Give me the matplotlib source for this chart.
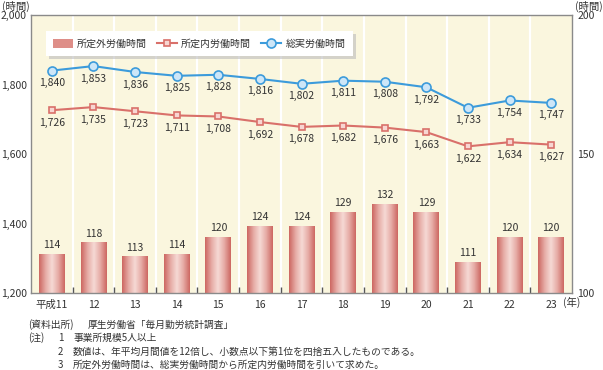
import matplotlib
matplotlib.use("Agg")
import matplotlib.pyplot as plt
import numpy as np
from matplotlib.colors import LinearSegmentedColormap
from matplotlib.patches import Rectangle
from matplotlib.lines import Line2D

plt.rcParams['font.family'] = ['Noto Sans CJK JP', 'DejaVu Sans']

years = ['平成11', '12', '13', '14', '15', '16', '17', '18', '19', '20', '21', '22', '23']
total_hours = [1840, 1853, 1836, 1825, 1828, 1816, 1802, 1811, 1808, 1792, 1733, 1754, 1747]
scheduled_hours = [1726, 1735, 1723, 1711, 1708, 1692, 1678, 1682, 1676, 1663, 1622, 1634, 1627]
overtime_hours = [114, 118, 113, 114, 120, 124, 124, 129, 132, 129, 111, 120, 120]
left_ticks = [1200, 1400, 1600, 1800, 2000]
right_ticks = [100, 150, 200]

fig = plt.figure(figsize=(6.03, 3.70), dpi=100)
ax = fig.add_axes([31/603, 1-293/370, 541/603, 278/370])
ax2 = ax.twinx()
ax.set_facecolor('#FAF6DE')
x = np.arange(len(years))

for b in np.arange(0.5, len(years)-0.5, 1):
    ax.axvline(b, color='white', lw=1.6, zorder=0.5)

cmap = LinearSegmentedColormap.from_list('bar', ['#CD6862', '#E6ABA5', '#F6DAD5', '#E6ABA5', '#CD6862'])
grad = np.linspace(0, 1, 64).reshape(1, -1)
w = 0.62
bars = ax.bar(x, np.array(overtime_hours) - 100, bottom=100, width=w, color='none', edgecolor='none', zorder=2)
for rect, v in zip(bars, overtime_hours):
    x0 = rect.get_x()
    ax.imshow(grad, cmap=cmap, aspect='auto', extent=(x0, x0 + w, 100, v), zorder=2)
    ax.annotate(f'{v}', (x0 + w/2, v), xytext=(0, 3), textcoords='offset points',
                ha='center', va='bottom', fontsize=7.5, color='#333333')
ax.set_xlim(-0.5, len(years)-0.5)
ax.set_ylim(100, 200)

ax.yaxis.tick_right()
ax.set_yticks(right_ticks)
ax.set_yticklabels([str(t) for t in right_ticks], fontsize=7.5, color='#333333')
ax.tick_params(axis='y', which='both', length=0, pad=4, left=False, labelleft=False, right=True, labelright=True)
ax.set_xticks(x)
ax.set_xticklabels(years, fontsize=7.5, color='#333333')
ax.tick_params(axis='x', length=0, pad=5)
ax.set_xticks(np.arange(0.5, len(years)-0.5, 1), minor=True)
ax.tick_params(axis='x', which='minor', direction='in', length=4, color='#555555', width=1)
for s in ax.spines.values():
    s.set_color('#8A8A8A')
    s.set_linewidth(1)

ax2.set_ylim(1200, 2000)
ax2.set_yticks(left_ticks)
ax2.set_yticklabels([f'{t:,}' for t in left_ticks], fontsize=7.5, color='#333333')
ax2.tick_params(axis='y', length=0, pad=3, left=True, labelleft=True, right=False, labelright=False)
ax2.patch.set_visible(False)
for s in ax2.spines.values():
    s.set_visible(False)

red = '#D9706A'
blue = '#3C9BDB'
ax2.plot(x, scheduled_hours, color=red, lw=1.5, marker='s', ms=5, mfc='#F7D6D2', mec=red, mew=1.2, zorder=3)
ax2.plot(x, total_hours, color=blue, lw=1.5, marker='o', ms=6.5, mfc='#CDE6F8', mec=blue, mew=1.2, zorder=3)
for xi, v in zip(x, scheduled_hours):
    ax2.annotate(f'{v:,}', (xi, v), xytext=(0, -9), textcoords='offset points',
                 ha='center', va='center', fontsize=7.5, color='#333333')
for xi, v in zip(x, total_hours):
    ax2.annotate(f'{v:,}', (xi, v), xytext=(0, -9), textcoords='offset points',
                 ha='center', va='center', fontsize=7.5, color='#333333')

handles = [
    Rectangle((0, 0), 1, 1, facecolor='#DE8E88', edgecolor='none'),
    Line2D([], [], color=red, lw=1.5, marker='s', ms=5, mfc='#F7D6D2', mec=red, mew=1.2),
    Line2D([], [], color=blue, lw=1.5, marker='o', ms=6.5, mfc='#CDE6F8', mec=blue, mew=1.2),
]
labels = ['所定外労働時間', '所定内労働時間', '総実労働時間']
leg = ax2.legend(handles, labels, loc='upper left', bbox_to_anchor=(0.018, 0.96), ncol=3,
                 fontsize=7.2, frameon=True, fancybox=False,
                 shadow={'color': '#BBBBBB', 'alpha': 0.6}, handlelength=2.0,
                 handleheight=1.1, columnspacing=1.0, handletextpad=0.4, borderpad=0.75)
leg.get_frame().set_edgecolor('white')
leg.get_frame().set_linewidth(0)
for t in leg.get_texts():
    t.set_color('#333333')

fig.text(2/603, 1-6/370, '(時間)', fontsize=7.5, color='#333333', va='center', ha='left')
fig.text(575/603, 1-6/370, '(時間)', fontsize=7.5, color='#333333', va='center', ha='left')
fig.text(563/603, 1-302/370, '(年)', fontsize=7.5, color='#333333', va='center', ha='left')

nc = '#333333'
fs = 7
fig.text(28/603, 1-325/370, '(資料出所)', fontsize=fs, color=nc, va='center')
fig.text(88/603, 1-325/370, '厚生労働省「毎月勤労統計調査」', fontsize=fs, color=nc, va='center')
fig.text(28/603, 1-338/370, '(注)', fontsize=fs, color=nc, va='center')
fig.text(58/603, 1-338/370, '1', fontsize=fs, color=nc, va='center')
fig.text(73/603, 1-338/370, '事業所規模5人以上', fontsize=fs, color=nc, va='center')
fig.text(58/603, 1-352/370, '2', fontsize=fs, color=nc, va='center')
fig.text(73/603, 1-352/370, '数値は、年平均月間値を12倍し、小数点以下第1位を四捨五入したものである。', fontsize=fs, color=nc, va='center')
fig.text(58/603, 1-365/370, '3', fontsize=fs, color=nc, va='center')
fig.text(73/603, 1-365/370, '所定外労働時間は、総実労働時間から所定内労働時間を引いて求めた。', fontsize=fs, color=nc, va='center')

fig.savefig('out.png', dpi=100, facecolor='white')
